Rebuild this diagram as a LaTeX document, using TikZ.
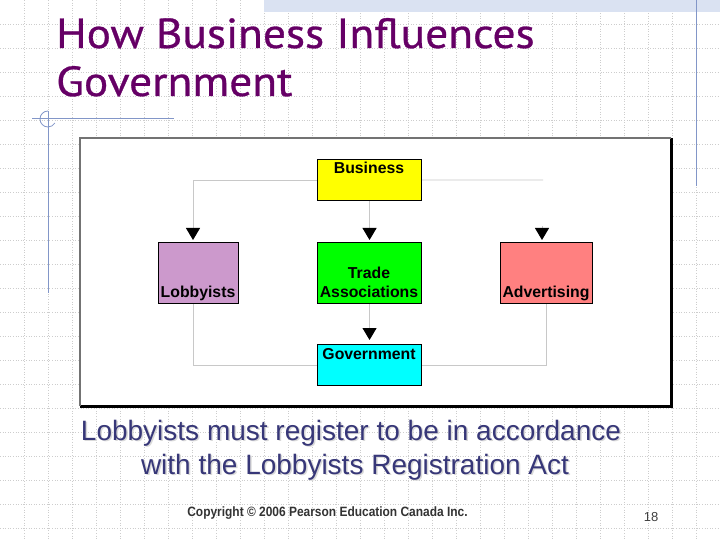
\documentclass[tikz,border=0pt]{standalone}
\usepackage{fontspec}
\setmainfont{Liberation Sans}
\newfontface\titlefont[FakeBold=0.7]{PT Sans}
\usetikzlibrary{arrows.meta}
\definecolor{titlepurple}{RGB}{102,0,102}
\definecolor{bodyblue}{RGB}{55,55,120}
\definecolor{conngray}{RGB}{200,200,200}
\definecolor{decoblue}{RGB}{130,150,200}
\definecolor{gridgray}{RGB}{205,205,205}
\definecolor{bandblue}{RGB}{218,226,242}
\definecolor{bizyellow}{RGB}{255,255,0}
\definecolor{lobpurple}{RGB}{204,153,204}
\definecolor{tradegreen}{RGB}{0,255,0}
\definecolor{advsalmon}{RGB}{255,128,128}
\definecolor{govcyan}{RGB}{0,255,255}
\tikzset{
  box/.style={draw=black, line width=1.1pt, inner sep=0pt, anchor=north west},
  boxtext/.style={font=\fontsize{15.8}{19}\selectfont\bfseries, inner sep=0pt, anchor=base},
  conn/.style={draw=conngray, line width=0.9pt},
  arr/.style={conn, -{Triangle[length=12pt,width=14pt,color=black]}},
  gridline/.style={draw=gridgray, dotted, line width=0.6pt},
  bodytext/.style={font=\fontsize{28}{34}\selectfont, inner sep=0pt, anchor=base},
  titletext/.style={anchor=base west, inner sep=0pt, text=titlepurple, font=\titlefont\fontsize{42}{50}\selectfont},
}
\begin{document}
\begin{tikzpicture}[x=1pt,y=-1pt]
\useasboundingbox (0,0) rectangle (720,540);
\fill[white] (0,0) rectangle (720,540);
% grid
\foreach \gx in {24,48,...,696} \draw[gridline] (\gx,0) -- (\gx,540);
\foreach \gy in {24,48,...,528} \draw[gridline] (0,\gy) -- (720,\gy);
% top band
\fill[bandblue] (264,0) rectangle (720,12);
% decorations
\draw[decoblue, line width=1pt] (696,0) -- (696,186);
\draw[decoblue, line width=1pt] (32,119) -- (174,119);
\draw[decoblue, line width=1pt] (48,111) -- (48,293);
\draw[decoblue, line width=0.8pt, shift={(48,119)}] (-90:8) arc[start angle=-90, end angle=-330, radius=8];
% title
\node[titletext] (t1) at (56,48) {\scalebox{1.08}[1]{How Business Influences}};
\node[titletext] (t2) at (56,96) {\scalebox{1.08}[1]{Government}};
% frame
\fill[white] (80,138) rectangle (672,407);
\draw[black, line width=3pt] (80,406) -- (671,406) -- (671,138);
\draw[gray!90!black, line width=1.6pt] (80,406) -- (80,138) -- (671,138);
% boxes
\node[box, fill=bizyellow, minimum width=104pt, minimum height=41pt] (biz) at (317,159) {};
\node[box, fill=lobpurple, minimum width=80pt, minimum height=61pt] (lob) at (158,242) {};
\node[box, fill=tradegreen, minimum width=104pt, minimum height=61pt] (trade) at (317,242) {};
\node[box, fill=advsalmon, minimum width=92pt, minimum height=61pt] (adv) at (500,242) {};
\node[box, fill=govcyan, minimum width=104pt, minimum height=41pt] (gov) at (317,344) {};
% box texts
\node[boxtext] (bizt) at (369,174) {Business};
\node[boxtext] (lobt) at (198,297) {Lobbyists};
\node[boxtext] (tradet1) at (369,278) {Trade};
\node[boxtext] (tradet2) at (369,297) {Associations};
\node[boxtext] (advt) at (546,297) {Advertising};
\node[boxtext] (govt) at (369,359) {Government};
% connectors
\coordinate (lobin) at (193,240);
\coordinate (bizR) at (543,180);
\coordinate (advfrom) at (542,226);
\coordinate (advin) at (542,240);
\draw[arr] (biz.west) -| (lobin);
\draw[conn] (biz.east) -- (bizR);
\draw[arr] (advfrom) -- (advin);
\draw[arr] (biz.south) -- ([yshift=2pt]trade.north);
\draw[arr] (trade.south) -- ([yshift=4pt]gov.north);
\draw[conn] ([xshift=-5pt]lob.south) |- (gov.west);
\draw[conn] (adv.south) |- (gov.east);
% body text
\node[bodytext, text=gray!30] (b1s) at (352.5,441.5) {Lobbyists must register to be in accordance};
\node[bodytext, text=gray!30] (b2s) at (356.5,475.5) {with the Lobbyists Registration Act};
\node[bodytext, text=bodyblue] (b1) at (351,440) {Lobbyists must register to be in accordance};
\node[bodytext, text=bodyblue] (b2) at (355,474) {with the Lobbyists Registration Act};
% footer
\node[anchor=base, inner sep=0pt, font=\fontsize{13.5}{15}\selectfont\bfseries, text=black!80] (copy) at (327.5,516) {\scalebox{0.885}[1]{Copyright © 2006 Pearson Education Canada Inc.}};
\node[anchor=base, inner sep=0pt, font=\fontsize{13}{15}\selectfont, text=black!75] (pg) at (651,521) {18};
\end{tikzpicture}
\end{document}
